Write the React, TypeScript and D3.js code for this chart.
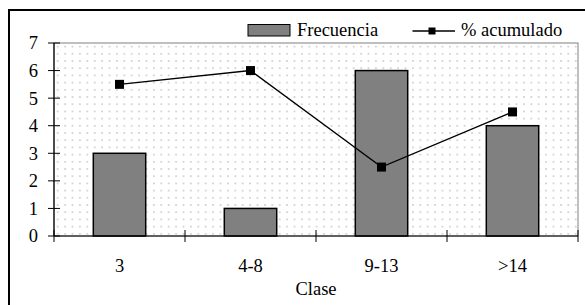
import React from 'react';
import * as d3 from 'd3';

const categories = ['3', '4-8', '9-13', '>14'];
const frecuencia = [3, 1, 6, 4];
const acumulado = [5.5, 6, 2.5, 4.5];
const yTicks = [0, 1, 2, 3, 4, 5, 6, 7];

const txt: React.CSSProperties = { fontFamily: '"Liberation Serif"', fontSize: 18.5 };

export default function App() {
  const W = 585, H = 305;
  const left = 54, right = 578, top = 43, bottom = 236;

  const x = d3.scaleBand().domain(categories).range([left, right]).paddingInner(0.6).paddingOuter(0.3);
  const y = d3.scaleLinear().domain([0, 7]).range([bottom, top]);
  const step = x.step();
  const line = d3.line<number>()
    .x((_, i) => (x(categories[i]) as number) + x.bandwidth() / 2)
    .y(d => y(d));

  return (
    <svg width={W} height={H} style={{ position: 'absolute', left: 0, top: 0, background: '#fff' }}>
      <defs>
        <pattern id="dots" width={7.4} height={7.2} patternUnits="userSpaceOnUse" x={left} y={top}>
          <rect width={7.4} height={7.2} fill="#fff" />
          <circle cx={3.7} cy={3.6} r={1} fill="#cccccc" />
        </pattern>
      </defs>
      {/* outer chart border, runs past the window */}
      <rect x={9} y={10} width={600} height={320} fill="#fff" stroke="#000" strokeWidth={2} />

      {/* plot area */}
      <rect x={left} y={top} width={right - left} height={bottom - top} fill="url(#dots)" stroke="#808080" strokeWidth={1} />

      {/* bars */}
      {frecuencia.map((v, i) => (
        <rect key={i} x={x(categories[i])} y={y(v)} width={x.bandwidth()} height={bottom - y(v)}
          fill="#808080" stroke="#000" strokeWidth={1.5} />
      ))}

      {/* axes */}
      <line x1={left} x2={left} y1={top} y2={bottom} stroke="#000" strokeWidth={1.2} />
      <line x1={left} x2={right} y1={bottom} y2={bottom} stroke="#000" strokeWidth={1.2} />
      {yTicks.map(t => (
        <g key={t}>
          <line x1={left - 6} x2={left + 6} y1={y(t)} y2={y(t)} stroke="#000" strokeWidth={1} />
          <text x={38} y={y(t)} dy="0.35em" textAnchor="end" style={txt}>{t}</text>
        </g>
      ))}
      {d3.range(categories.length + 1).map(i => (
        <line key={i} x1={left + i * step} x2={left + i * step} y1={bottom - 6} y2={bottom + 6} stroke="#000" strokeWidth={1} />
      ))}
      {categories.map(c => (
        <text key={c} x={(x(c) as number) + x.bandwidth() / 2} y={272} textAnchor="middle" style={txt}>{c}</text>
      ))}
      <text x={(left + right) / 2} y={295} textAnchor="middle" style={txt}>Clase</text>

      {/* cumulative line */}
      <path d={line(acumulado) || ''} fill="none" stroke="#000" strokeWidth={1.4} />
      {acumulado.map((v, i) => (
        <rect key={i} x={(x(categories[i]) as number) + x.bandwidth() / 2 - 4.5} y={y(v) - 4.5} width={9} height={9} fill="#000" />
      ))}

      {/* legend */}
      <rect x={248} y={24.5} width={42} height={11.5} fill="#808080" stroke="#000" strokeWidth={1} />
      <text x={297} y={35.5} style={txt}>Frecuencia</text>
      <line x1={412.5} x2={455} y1={31} y2={31} stroke="#000" strokeWidth={1.5} />
      <rect x={428.5} y={27.5} width={7} height={7} fill="#000" />
      <text x={461} y={35.5} style={txt}>% acumulado</text>
    </svg>
  );
}
